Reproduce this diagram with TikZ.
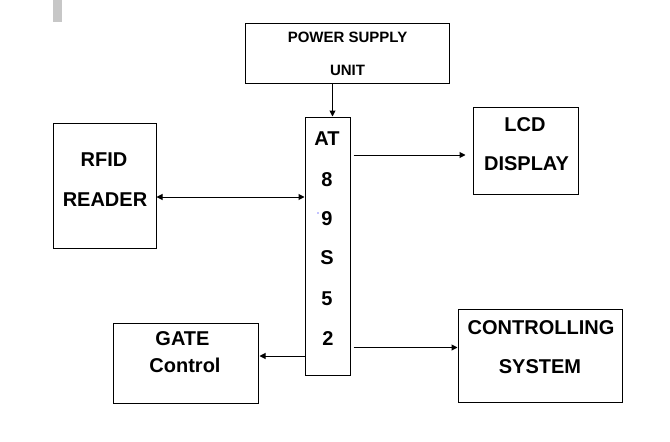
\documentclass[tikz,border=0pt]{standalone}
\usepackage{fontspec}
\setmainfont{Liberation Sans}
\usetikzlibrary{arrows.meta}

\tikzset{
  blk/.style={draw=black, line width=1pt, rectangle, inner sep=0pt},
  lbl/.style={inner sep=0pt, font=\fontsize{20}{24}\selectfont\bfseries},
  lblsmall/.style={inner sep=0pt, font=\fontsize{15}{18}\selectfont\bfseries},
  conn/.style={line width=1pt, -{Triangle[length=6pt,width=6pt]}},
}

\begin{document}
\begin{tikzpicture}[x=1pt, y=-1pt]
        \useasboundingbox (0,0) rectangle (670,442);
        \fill[black!22] (53,0) rectangle (62,22);

        % blocks
        \node[blk, minimum width=204pt, minimum height=60pt] (psu) at (347,53) {};
        \node[blk, minimum width=45pt, minimum height=258pt] (mc) at (327.5,246) {};
        \node[blk, minimum width=103pt, minimum height=125pt] (rfid) at (104.5,185.5) {};
        \node[blk, minimum width=105pt, minimum height=87pt] (lcd) at (525.5,150.5) {};
        \node[blk, minimum width=164pt, minimum height=93pt] (ctrl) at (540,355.5) {};
        \node[blk, minimum width=145pt, minimum height=80pt] (gate) at (185.5,363) {};

        % texts
        \node[lblsmall] (psu1) at (347.5,37) {POWER SUPPLY};
        \node[lblsmall] (psu2) at (347.5,70.5) {UNIT};
        \node[lbl] (rfid1) at (104,159.5) {RFID};
        \node[lbl] (rfid2) at (105,199.5) {READER};
        \node[lbl] (mc1) at (327,138.5) {AT};
        \node[lbl] (mc2) at (327,180) {8};
        \node[lbl] (mc3) at (327,218.5) {9};
        \node[lbl] (mc4) at (327,257.5) {S};
        \node[lbl] (mc5) at (327,299) {5};
        \node[lbl] (mc6) at (328,338.5) {2};
        \node[lbl] (lcd1) at (525,124.5) {LCD};
        \node[lbl] (lcd2) at (526.5,164) {DISPLAY};
        \node[lbl] (ctrl1) at (541,328) {CONTROLLING};
        \node[lbl] (ctrl2) at (540,366.5) {SYSTEM};
        \node[lbl] (gate1) at (182.5,339) {GATE};
        \node[lbl] (gate2) at (185,365.5) {Control};
        \fill[blue] (318,213) circle (0.7pt);

        % connections
        \draw[conn] ([xshift=5pt]mc.north |- psu.south) -- ([xshift=5pt]mc.north);
        \draw[conn, {Triangle[length=6pt,width=6pt]}-{Triangle[length=6pt,width=6pt]}] ([yshift=-11.5pt]rfid.east) -- ([yshift=-11.5pt]rfid.east -| mc.west);
        \draw[conn, shorten <=3pt, shorten >=7pt] ([yshift=-4.5pt]lcd.west -| mc.east) -- ([yshift=-4.5pt]lcd.west);
        \draw[conn, shorten <=3pt] ([yshift=8pt]ctrl.west -| mc.east) -- ([yshift=8pt]ctrl.west);
        \draw[conn, shorten >=1pt] ([yshift=7pt]gate.east -| mc.west) -- ([yshift=7pt]gate.east);
\end{tikzpicture}
\end{document}
